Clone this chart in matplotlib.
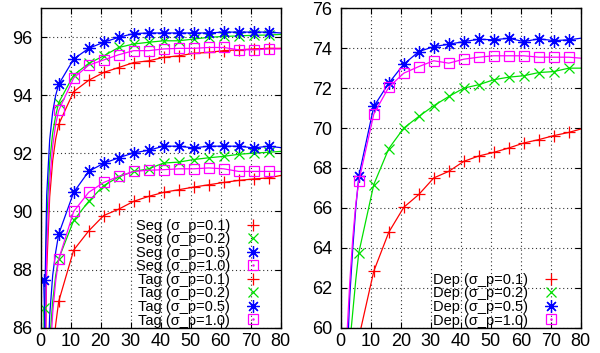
import matplotlib.pyplot as plt
from matplotlib.lines import Line2D
from matplotlib.legend_handler import HandlerTuple

plt.rcParams['font.family'] = ['Liberation Sans', 'DejaVu Sans']

# Data (iterations; markers every 5 starting at 1)
x = [1, 2, 3, 4, 5, 6, 11, 16, 21, 26, 31, 36, 41, 46, 51, 56, 61, 66, 71, 76, 80]
mark_idx = [0] + list(range(5, 20))

seg01 = [80.6, 88.0, 90.5, 91.75, 92.5, 93.0, 94.13, 94.52, 94.79, 94.96, 95.13,
         95.19, 95.31, 95.36, 95.45, 95.48, 95.54, 95.57, 95.6, 95.62, 95.62]
seg02 = [83.3, 89.6, 91.7, 92.7, 93.3, 93.75, 94.7, 95.1, 95.36, 95.65, 95.77,
         95.83, 95.88, 95.88, 95.94, 96.0, 96.03, 96.05, 96.07, 96.08, 96.1]
seg05 = [84.8, 90.55, 92.47, 93.43, 94.0, 94.38, 95.25, 95.62, 95.83, 96.0, 96.13,
         96.15, 96.15, 96.15, 96.15, 96.15, 96.18, 96.18, 96.18, 96.18, 96.15]
seg10 = [81.2, 88.6, 91.0, 92.25, 93.0, 93.48, 94.6, 95.04, 95.22, 95.4, 95.54,
         95.54, 95.6, 95.62, 95.62, 95.65, 95.65, 95.57, 95.57, 95.6, 95.6]

tag01 = [75, 79, 83, 85, 86.1, 86.9, 88.67, 89.33, 89.86, 90.08, 90.35,
         90.52, 90.66, 90.75, 90.84, 90.92, 91.0, 91.07, 91.12, 91.16, 91.24]
tag02 = [86.69, 82.6, 85.5, 86.9, 87.8, 88.37, 89.69, 90.35, 90.89, 91.19, 91.38,
         91.47, 91.67, 91.7, 91.79, 91.85, 91.9, 91.97, 92.01, 92.04, 92.07]
tag05 = [87.64, 83.5, 86.4, 87.8, 88.6, 89.22, 90.66, 91.38, 91.66, 91.85, 92.02,
         92.11, 92.25, 92.25, 92.19, 92.25, 92.25, 92.25, 92.19, 92.25, 92.2]
tag10 = [75, 81.1, 84.7, 86.5, 87.6, 88.35, 90.0, 90.66, 91.0, 91.21, 91.38,
         91.42, 91.44, 91.47, 91.47, 91.5, 91.47, 91.38, 91.38, 91.38, 91.38]

dep01 = [50, 53, 55.5, 57, 58.3, 59.5, 62.83, 64.78, 66.03, 66.67, 67.5,
         67.83, 68.33, 68.6, 68.78, 69.0, 69.25, 69.42, 69.62, 69.78, 69.95]
dep02 = [54, 57, 59.2, 60.8, 62.4, 63.75, 67.17, 68.97, 70.0, 70.58, 71.12,
         71.58, 72.0, 72.17, 72.42, 72.55, 72.62, 72.78, 72.83, 73.0, 73.0]
dep05 = [54, 58, 61.6, 64.0, 66.0, 67.58, 71.08, 72.25, 73.2, 73.83, 74.08,
         74.2, 74.33, 74.45, 74.42, 74.5, 74.33, 74.47, 74.38, 74.42, 74.5]
dep10 = [55, 59.5, 62.3, 64.5, 66.2, 67.33, 70.7, 72.05, 72.75, 73.08, 73.37,
         73.25, 73.45, 73.55, 73.62, 73.62, 73.62, 73.55, 73.55, 73.55, 73.5]

sigmas = ['0.1', '0.2', '0.5', '1.0']
colors = ['#ff0000', '#00e000', '#0000ff', '#ff00ff']
markers = ['+', 'x', (8, 2, 0), 's']
msizes = [9, 7.5, 9, 7.5]


def style(i):
    kw = dict(color=colors[i], lw=0.9, marker=markers[i], ms=msizes[i],
              mew=0.9, markevery=mark_idx)
    if markers[i] == 's':
        kw['mfc'] = 'none'
    return kw


def handle(i):
    h = Line2D([], [], ls='none', color=colors[i], marker=markers[i],
               ms=msizes[i], mew=0.9, mfc='none')
    if markers[i] == 's':
        dot = Line2D([], [], ls='none', color=colors[i], marker='.', ms=1.5)
        return (h, dot)
    return h


def setup(ax, ylim):
    ax.set_xlim(0, 80)
    ax.set_ylim(*ylim)
    ax.set_xticks(range(0, 81, 10))
    ax.set_yticks(range(int(ylim[0]), int(ylim[1]) + 1, 2))
    ax.tick_params(direction='in', top=True, right=True, length=4,
                   labelsize=13, width=0.8)
    ax.tick_params(axis='x', pad=4)
    ax.tick_params(axis='y', pad=6)
    ax.grid(True, ls=(0, (1, 2.5)), color='#333333', lw=0.8)
    for s in ax.spines.values():
        s.set_linewidth(1.0)


fig = plt.figure(figsize=(6, 3.53), dpi=100)
ax1 = fig.add_axes([0.0678, 0.072, 0.4, 0.9045])
ax2 = fig.add_axes([0.568, 0.072, 0.4, 0.9045])

leg_kw = dict(loc='lower right', frameon=False, markerfirst=False,
              fontsize=10.5, labelspacing=-0.03, handlelength=2,
              handletextpad=0.55, borderpad=0, borderaxespad=0,
              handler_map={tuple: HandlerTuple(ndivide=1)})

# Left: Seg and Tag
for i, ys in enumerate([seg01, seg02, seg05, seg10]):
    ax1.plot(x, ys, **style(i))
for i, ys in enumerate([tag01, tag02, tag05, tag10]):
    ax1.plot(x, ys, **style(i))
setup(ax1, (86, 97))

hs = [handle(i) for i in range(4)] * 2
labels = ['Seg (σ_p=%s)' % s for s in sigmas] + ['Tag (σ_p=%s)' % s for s in sigmas]
ax1.legend(hs, labels, bbox_to_anchor=(0.945, 0.0), **leg_kw)

# Right: Dep
for i, ys in enumerate([dep01, dep02, dep05, dep10]):
    ax2.plot(x, ys, **style(i))
setup(ax2, (60, 76))

hs = [handle(i) for i in range(4)]
labels = ['Dep (σ_p=%s)' % s for s in sigmas]
ax2.legend(hs, labels, bbox_to_anchor=(0.935, 0.0), **leg_kw)

plt.savefig('out.png')
